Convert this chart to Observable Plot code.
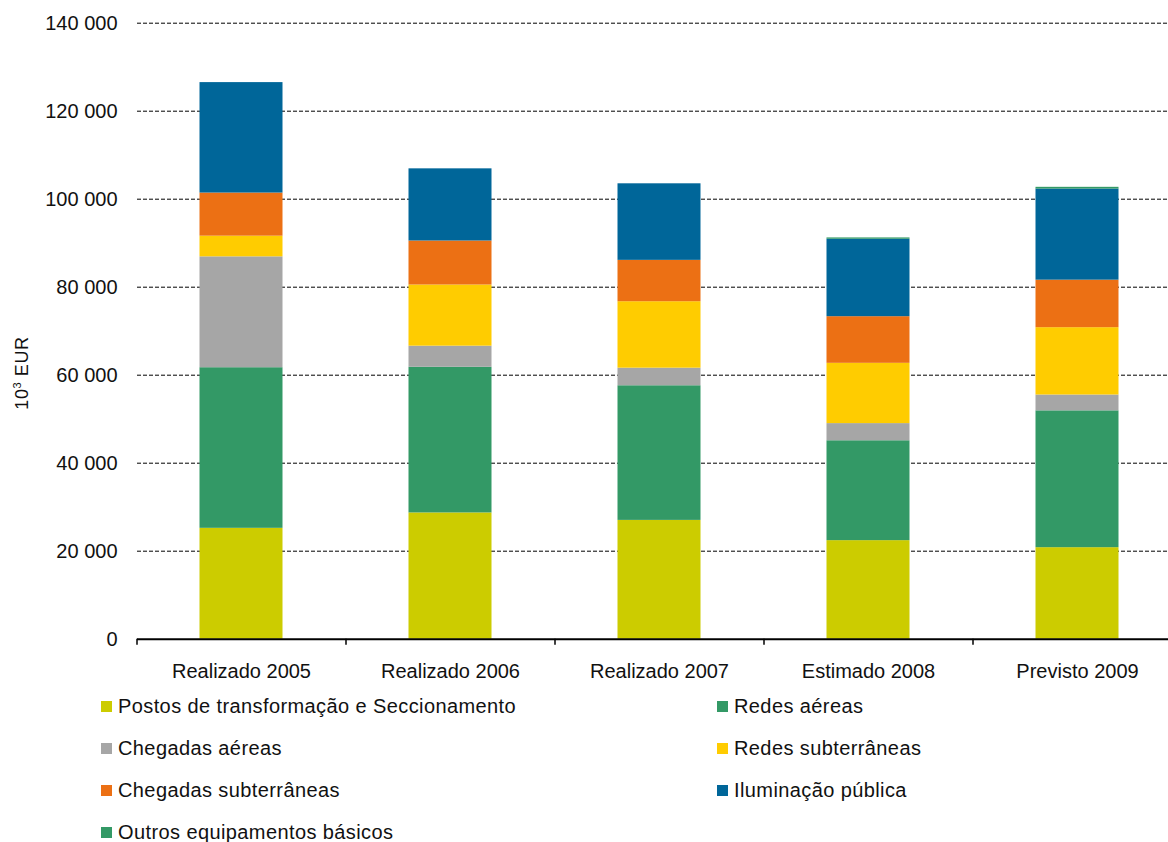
<!DOCTYPE html>
<html>
<head>
<meta charset="utf-8">
<script src="https://cdn.jsdelivr.net/npm/d3@7"></script>
<script src="https://cdn.jsdelivr.net/npm/@observablehq/plot@0.6"></script>
<style>
  html, body { margin: 0; padding: 0; background: #fff; }
  body { width: 1168px; height: 842px; position: relative; overflow: hidden; font-family: "Liberation Sans", Arial, sans-serif; color: #111; }
  #chart { position: absolute; left: 0; top: 0; }
  #ylabel { position: absolute; left: 22px; top: 373px; transform: translate(-50%, -50%) rotate(-90deg); font-size: 18px; white-space: nowrap; letter-spacing: 0.6px; }
  #ylabel sup { font-size: 11px; vertical-align: 7px; line-height: 0; }
  .leg { position: absolute; font-size: 20px; letter-spacing: 0.4px; white-space: nowrap; display: flex; align-items: center; }
  .leg .sw { width: 11px; height: 11px; margin-right: 6px; flex: none; }
</style>
</head>
<body>
<div id="chart"></div>
<div id="ylabel">10<sup>3</sup> EUR</div>
<div id="legend"></div>
<script>
const categories = ["Realizado 2005", "Realizado 2006", "Realizado 2007", "Estimado 2008", "Previsto 2009"];
const seriesNames = [
  "Postos de transformação e Seccionamento",
  "Redes aéreas",
  "Chegadas aéreas",
  "Redes subterrâneas",
  "Chegadas subterrâneas",
  "Iluminação pública",
  "Outros equipamentos básicos"
];
const seriesColors = ["#CCCC00", "#339966", "#A6A6A6", "#FFCC00", "#EC7014", "#006699", "#339966"];

const postos          = [25200, 28700, 27000, 22400, 20800];
const redesAereas     = [36500, 33100, 30600, 22700, 31100];
const chegadasAereas  = [25200,  4800,  4000,  3900,  3600];
const redesSubt       = [ 4700, 13900, 15100, 13700, 15300];
const chegadasSubt    = [ 9800, 10000,  9400, 10600, 10800];
const iluminacao      = [25100, 16400, 17400, 17600, 20700];
const outros          = [    0,     0,     0,   300,   400];

const yTicks = [0, 20000, 40000, 60000, 80000, 100000, 120000, 140000];

const seriesValues = [postos, redesAereas, chegadasAereas, redesSubt, chegadasSubt, iluminacao, outros];
const data = [];
seriesNames.forEach((s, si) => {
  categories.forEach((c, ci) => {
    data.push({category: c, series: s, value: seriesValues[si][ci]});
  });
});

const fmt = v => d3.format(",")(v).replace(/,/g, " ");

const W = 1168, H = 690;
const left = 136.5;
const step = 209;
const barInset = (step - 83) / 2;

const chart = Plot.plot({
  width: W,
  height: H,
  marginLeft: 137,
  marginRight: 0,
  marginTop: 22.7,
  marginBottom: H - 638.7,
  style: {fontFamily: "'Liberation Sans', Arial, sans-serif", fontSize: "20px", color: "#111", background: "#fff"},
  x: {type: "band", domain: categories, range: [left, left + step * categories.length], padding: 0, round: false},
  y: {domain: [0, 140000]},
  color: {domain: seriesNames, range: seriesColors},
  marks: [
    Plot.ruleY(yTicks.filter(d => d > 0), {y: d => d, stroke: "#000", strokeWidth: 1, strokeDasharray: "4,2"}),
    Plot.barY(data, {x: "category", y: "value", fill: "series", insetLeft: barInset, insetRight: barInset, order: null}),
    Plot.ruleY([0], {stroke: "#000", strokeWidth: 2}),
    Plot.axisY({ticks: yTicks, tickFormat: fmt, tickSize: 0, tickPadding: 20, label: null, fontSize: 20, fill: "#111"}),
    Plot.axisX({tickSize: 0, tickPadding: 25, label: null, fontSize: 20, fill: "#111"}),
    Plot.axisX({tickSize: 6, tickFormat: () => "", dx: -step / 2, label: null, stroke: "#000", strokeWidth: 1.5})
  ]
});
document.getElementById("chart").appendChild(chart);

// legend in two columns
const legend = document.getElementById("legend");
const colX = [101, 717];
const rowY = [706, 748, 790.5, 832];
seriesNames.forEach((s, i) => {
  const div = document.createElement("div");
  div.className = "leg";
  div.style.left = colX[i % 2] + "px";
  div.style.top = (rowY[Math.floor(i / 2)] - 11) + "px";
  div.style.height = "22px";
  const sw = document.createElement("span");
  sw.className = "sw";
  sw.style.background = seriesColors[i];
  const tx = document.createElement("span");
  tx.textContent = s;
  div.appendChild(sw);
  div.appendChild(tx);
  legend.appendChild(div);
});
</script>
</body>
</html>
